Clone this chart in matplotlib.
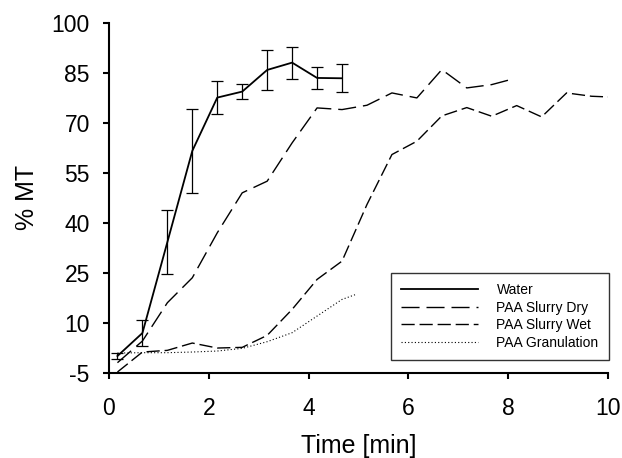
import matplotlib
matplotlib.use('Agg')
import matplotlib.pyplot as plt
from matplotlib.lines import Line2D

plt.rcParams['font.family'] = ['Liberation Sans', 'DejaVu Sans']
plt.rcParams['axes.unicode_minus'] = False

# Water (mean +/- error)
t_water = [0.17, 0.67, 1.17, 1.67, 2.17, 2.67, 3.17, 3.67, 4.17, 4.67]
water = [0.0, 6.9, 34.2, 61.6, 77.6, 79.4, 85.9, 88.1, 83.5, 83.4]
water_err = [1.0, 3.8, 9.5, 12.5, 5.0, 2.3, 6.0, 4.8, 3.4, 4.25]

# PAA Slurry Dry
t_dry = [0.17, 0.67, 1.17, 1.67, 2.17, 2.67, 3.17, 3.67, 4.17, 4.67, 5.17, 5.67,
         6.17, 6.67, 7.17, 7.67, 8.12]
dry = [-2.0, 4.5, 16.0, 23.5, 37.0, 49.0, 52.5, 64.0, 74.5, 74.0, 75.3, 79.0,
       77.5, 86.0, 80.5, 81.5, 83.3]

# PAA Slurry Wet
t_wet = [0.17, 0.67, 1.17, 1.67, 2.17, 2.67, 3.17, 3.67, 4.17, 4.67, 5.17, 5.67,
         6.17, 6.67, 7.17, 7.67, 8.17, 8.67, 9.17, 9.67, 10.0]
wet = [-4.8, 1.2, 1.7, 3.9, 2.4, 2.6, 6.2, 14.0, 23.0, 28.5, 45.5, 60.5,
       64.5, 72.1, 74.6, 72.0, 75.2, 71.8, 79.0, 78.0, 77.8]

# PAA Granulation
t_gran = [0.17, 0.67, 1.17, 1.67, 2.17, 2.67, 3.17, 3.67, 4.17, 4.67, 4.93]
gran = [0.9, 1.0, 1.0, 1.2, 1.5, 2.3, 4.3, 7.0, 12.0, 17.0, 18.4]

fig = plt.figure(figsize=(6.22, 4.58), dpi=100)
ax = fig.add_axes([0.1752, 0.1863, 0.8023, 0.7635])

ax.errorbar(t_water, water, yerr=water_err, color='black', lw=1.3,
            elinewidth=0.9, capsize=4.3, capthick=0.9)
ax.plot(t_dry, dry, color='black', lw=1.0, dashes=(13, 5))
ax.plot(t_wet, wet, color='black', lw=1.0, dashes=(9.5, 3.5))
ax.plot(t_gran, gran, color='black', lw=0.8, dashes=(1, 2))

ax.set_xlim(0, 10)
ax.set_ylim(-5, 100)
ax.set_xticks([0, 2, 4, 6, 8, 10])
ax.set_yticks([-5, 10, 25, 40, 55, 70, 85, 100])

for s in ['top', 'right']:
    ax.spines[s].set_visible(False)
for s in ['left', 'bottom']:
    ax.spines[s].set_linewidth(1.5)
ax.tick_params(direction='out', length=4.3, width=1.5, labelsize=16.5)
ax.tick_params(axis='x', pad=13)
ax.tick_params(axis='y', pad=9.5)

ax.set_xlabel('Time [min]', fontsize=18, labelpad=10)
ax.set_ylabel('% MT', fontsize=18, labelpad=9)

# legenda manual (sem barra de erro no handle da Water)
handles = [
    Line2D([], [], color='black', lw=1.3),
    Line2D([], [], color='black', lw=1.0, dashes=(13, 5)),
    Line2D([], [], color='black', lw=1.0, dashes=(9.5, 3.5)),
    Line2D([], [], color='black', lw=0.8, dashes=(1, 2)),
]
labels = ['Water', 'PAA Slurry Dry', 'PAA Slurry Wet', 'PAA Granulation']
leg = ax.legend(handles, labels, loc='lower right', bbox_to_anchor=(1.002, 0.036),
                borderaxespad=0, fontsize=10, frameon=True, fancybox=False,
                edgecolor='black', handlelength=5.5, borderpad=0.75,
                labelspacing=0.25, handletextpad=1.35)
leg.get_frame().set_linewidth(1.0)

fig.savefig('out.png', dpi=100)
